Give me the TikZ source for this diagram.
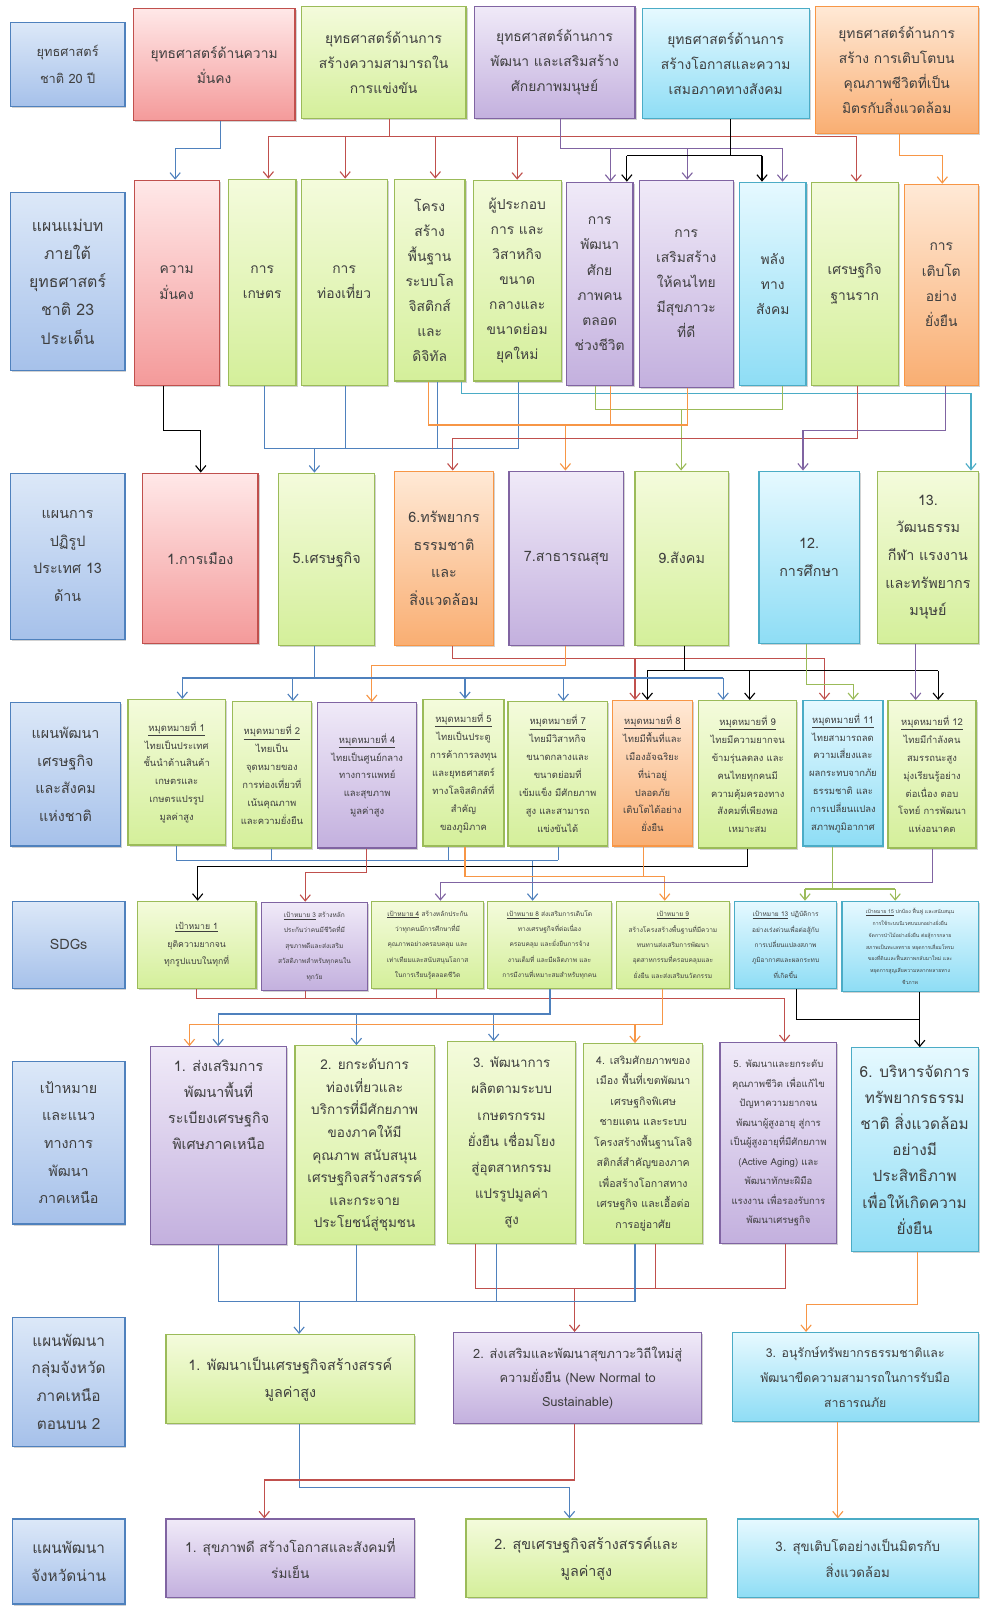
\documentclass[tikz,border=0pt]{standalone}
\usepackage{fontspec}
\setmainfont[Script=Thai]{Loma}
\usetikzlibrary{arrows.meta,shadows,calc}
\definecolor{tx}{HTML}{3F3F3F}
\definecolor{bluB}{HTML}{4F81BD}\definecolor{bluT}{HTML}{DCE8F8}\definecolor{bluE}{HTML}{A6C1EA}
\definecolor{redB}{HTML}{C0504D}\definecolor{redT}{HTML}{FFE8E8}\definecolor{redE}{HTML}{F49A9A}
\definecolor{grnB}{HTML}{9BBB59}\definecolor{grnT}{HTML}{F4FBDC}\definecolor{grnE}{HTML}{D4EF9A}
\definecolor{purB}{HTML}{8064A2}\definecolor{purT}{HTML}{F0EAF8}\definecolor{purE}{HTML}{C3B0DE}
\definecolor{cyaB}{HTML}{4BACC6}\definecolor{cyaT}{HTML}{E6F9FF}\definecolor{cyaE}{HTML}{8EDDF5}
\definecolor{orgB}{HTML}{F79646}\definecolor{orgT}{HTML}{FFE9D6}\definecolor{orgE}{HTML}{F9AE72}
\newcommand\myfs[2]{\fontsize{#1}{#2}\selectfont}
\newcommand\mybox[7]{\node[#1, minimum width={#5pt-#3pt}, minimum height={#6pt-#4pt}] (#2) at ({(#3+#5)/2},{(#4+#6)/2}) {#7};}
\tikzset{
 bx/.style={draw, line width=1.2pt, align=center, text=tx, inner sep=1pt,
   drop shadow={shadow xshift=1.5pt,shadow yshift=-1.5pt,opacity=0.35}},
 lbl/.style={bx, draw=bluB, top color=bluT, bottom color=bluE},
 rbx/.style={bx, draw=redB, top color=redT, bottom color=redE},
 gbx/.style={bx, draw=grnB, top color=grnT, bottom color=grnE},
 pbx/.style={bx, draw=purB, top color=purT, bottom color=purE},
 cbx/.style={bx, draw=cyaB, top color=cyaT, bottom color=cyaE},
 obx/.style={bx, draw=orgB, top color=orgT, bottom color=orgE},
 ln/.style={line width=1.1pt},
 cb/.style={ln, draw=bluB}, cr/.style={ln, draw=redB}, cp/.style={ln, draw=purB},
 ck/.style={ln, draw=black}, co/.style={ln, draw=orgB}, cg/.style={ln, draw=grnB},
 cc/.style={ln, draw=cyaB},
 ar/.style={-{Straight Barb[length=6pt,width=10pt]}},
 t1/.style={font=\myfs{14}{27}},
 t2/.style={font=\myfs{13.5}{24.5}},
 t4/.style={font=\myfs{9.2}{17.5}},
 t5/.style={font=\myfs{6.4}{15}},
}
\begin{document}
\begin{tikzpicture}[x=1pt,y=-1pt]
\fill[white] (0,0) rectangle (958,1568);
\useasboundingbox (0,0) rectangle (958,1568);
% ---------- row 1
\mybox{lbl,font=\myfs{12.5}{26}}{l1}{10}{22}{122}{104}{ยุทธศาสตร์\\ชาติ 20 ปี}
\mybox{rbx,t2}{s1}{130}{8}{288}{118}{ยุทธศาสตร์ด้านความ\\มั่นคง}
\mybox{gbx,t2}{s2}{294}{6}{455}{116}{ยุทธศาสตร์ด้านการ\\สร้างความสามารถใน\\การแข่งขัน}
\mybox{pbx,t2}{s3}{463}{6}{620}{116}{ยุทธศาสตร์ด้านการ\\พัฒนา และเสริมสร้าง\\ศักยภาพมนุษย์}
\mybox{cbx,t2}{s4}{627}{8}{790}{116}{ยุทธศาสตร์ด้านการ\\สร้างโอกาสและความ\\เสมอภาคทางสังคม}
\mybox{obx,t2}{s5}{796}{6}{955}{130}{ยุทธศาสตร์ด้านการ\\สร้าง การเติบโตบน\\คุณภาพชีวิตที่เป็น\\มิตรกับสิ่งแวดล้อม}
% ---------- row 2
\mybox{lbl,font=\myfs{15.5}{27.5}}{l2}{10}{188}{122}{362}{แผนแม่บท\\ภายใต้\\ยุทธศาสตร์\\ชาติ 23\\ประเด็น}
\mybox{rbx,t2}{b1}{131}{176}{214}{376}{ความ\\มั่นคง}
\mybox{gbx,t2}{b2}{223}{175}{289}{376}{การ\\เกษตร}
\mybox{gbx,t2}{b3}{294}{175}{378}{376}{การ\\ท่องเที่ยว}
\mybox{gbx,t2}{b4}{385}{175}{454}{372}{โครง\\สร้าง\\พื้นฐาน\\ระบบโล\\จิสติกส์\\และ\\ดิจิทัล}
\mybox{gbx,t2}{b5}{462}{176}{548}{372}{ผู้ประกอบ\\การ และ\\วิสาหกิจ\\ขนาด\\กลางและ\\ขนาดย่อม\\ยุคใหม่}
\mybox{pbx,t2}{b6}{553}{178}{618}{376}{การ\\พัฒนา\\ศักย\\ภาพคน\\ตลอด\\ช่วงชีวิต}
\mybox{pbx,t2}{b7}{624}{176}{716}{378}{การ\\เสริมสร้าง\\ให้คนไทย\\มีสุขภาวะ\\ที่ดี}
\mybox{cbx,t2}{b8}{722}{178}{787}{376}{พลัง\\ทาง\\สังคม}
\mybox{gbx,t2}{b9}{792}{178}{877}{376}{เศรษฐกิจ\\ฐานราก}
\mybox{obx,t2}{b10}{883}{180}{955}{376}{การ\\เติบโต\\อย่าง\\ยั่งยืน}
% ---------- row 3
\mybox{lbl,t1}{l3}{10}{462}{122}{624}{แผนการ\\ปฏิรูป\\ประเทศ 13\\ด้าน}
\mybox{rbx,t1}{c1}{139}{462}{252}{628}{1.การเมือง}
\mybox{gbx,t1}{c2}{272}{462}{366}{630}{5.เศรษฐกิจ}
\mybox{obx,t1}{c3}{385}{460}{482}{630}{6.ทรัพยากร\\ธรรมชาติ\\และ\\สิ่งแวดล้อม}
\mybox{pbx,t1}{c4}{497}{460}{609}{630}{7.สาธารณสุข}
\mybox{gbx,t1}{c5}{620}{460}{711}{630}{9.สังคม}
\mybox{cbx,t1}{c6}{741}{460}{839}{628}{12.\\การศึกษา}
\mybox{gbx,t1}{c7}{857}{460}{955}{628}{13.\\วัฒนธรรม\\กีฬา แรงงาน\\และทรัพยากร\\มนุษย์}
% ---------- row 4
\mybox{lbl,t1}{l4}{10}{686}{118}{826}{แผนพัฒนา\\เศรษฐกิจ\\และสังคม\\แห่งชาติ}
\mybox{gbx,t4}{d1}{125}{683}{220}{825}{\underline{หมุดหมายที่ 1}\\ไทยเป็นประเทศ\\ชั้นนำด้านสินค้า\\เกษตรและ\\เกษตรแปรรูป\\มูลค่าสูง}
\mybox{gbx,t4}{d2}{227}{685}{304}{828}{\underline{หมุดหมายที่ 2}\\ไทยเป็น\\จุดหมายของ\\การท่องเที่ยวที่\\เน้นคุณภาพ\\และความยั่งยืน}
\mybox{pbx,t4}{d3}{310}{686}{407}{828}{\underline{หมุดหมายที่ 4}\\ไทยเป็นศูนย์กลาง\\ทางการแพทย์\\และสุขภาพ\\มูลค่าสูง}
\mybox{gbx,t4}{d4}{413}{683}{492}{826}{\underline{หมุดหมายที่ 5}\\ไทยเป็นประตู\\การค้าการลงทุน\\และยุทธศาสตร์\\ทางโลจิสติกส์ที่\\สำคัญ\\ของภูมิภาค}
\mybox{gbx,t4}{d5}{496}{685}{593}{826}{\underline{หมุดหมายที่ 7}\\ไทยมีวิสาหกิจ\\ขนาดกลางและ\\ขนาดย่อมที่\\เข้มแข็ง มีศักยภาพ\\สูง และสามารถ\\แข่งขันได้}
\mybox{obx,t4}{d6}{598}{684}{676}{826}{\underline{หมุดหมายที่ 8}\\ไทยมีพื้นที่และ\\เมืองอัจฉริยะ\\ที่น่าอยู่\\ปลอดภัย\\เติบโตได้อย่าง\\ยั่งยืน}
\mybox{gbx,t4}{d7}{682}{684}{778}{828}{\underline{หมุดหมายที่ 9}\\ไทยมีความยากจน\\ข้ามรุ่นลดลง และ\\คนไทยทุกคนมี\\ความคุ้มครองทาง\\สังคมที่เพียงพอ\\เหมาะสม}
\mybox{cbx,t4}{d8}{784}{684}{862}{826}{\underline{หมุดหมายที่ 11}\\ไทยสามารถลด\\ความเสี่ยงและ\\ผลกระทบจากภัย\\ธรรมชาติ และ\\การเปลี่ยนแปลง\\สภาพภูมิอากาศ}
\mybox{gbx,t4}{d9}{867}{684}{953}{828}{\underline{หมุดหมายที่ 12}\\ไทยมีกำลังคน\\สมรรถนะสูง\\มุ่งเรียนรู้อย่าง\\ต่อเนื่อง ตอบ\\โจทย์ การพัฒนา\\แห่งอนาคต}
% ---------- row 5
\mybox{lbl,t1}{l5}{12}{880}{122}{965}{SDGs}
\mybox{gbx,font=\myfs{8.5}{17}}{e1}{134}{880}{250}{965}{\underline{เป้าหมาย 1}\\ยุติความยากจน\\ทุกรูปแบบในทุกที่}
\mybox{pbx,t5}{e2}{255}{881}{359}{967}{\underline{เป้าหมาย 3} สร้างหลัก\\ประกันว่าคนมีชีวิตที่มี\\สุขภาพดีและส่งเสริม\\สวัสดิภาพสำหรับทุกคนใน\\ทุกวัย}
\mybox{gbx,t5}{e3}{363}{880}{472}{965}{\underline{เป้าหมาย 4} สร้างหลักประกัน\\ว่าทุกคนมีการศึกษาที่มี\\คุณภาพอย่างครอบคลุม และ\\เท่าเทียมและสนับสนุนโอกาส\\ในการเรียนรู้ตลอดชีวิต}
\mybox{gbx,t5}{e4}{476}{880}{597}{965}{\underline{เป้าหมาย 8} ส่งเสริมการเติบโต\\ทางเศรษฐกิจที่ต่อเนื่อง\\ครอบคลุม และยั่งยืนการจ้าง\\งานเต็มที่ และมีผลิตภาพ และ\\การมีงานที่เหมาะสมสำหรับทุกคน}
\mybox{gbx,t5}{e5}{602}{880}{712}{965}{\underline{เป้าหมาย 9}\\สร้างโครงสร้างพื้นฐานที่มีความ\\ทนทานส่งเสริมการพัฒนา\\อุตสาหกรรมที่ครอบคลุมและ\\ยั่งยืน และส่งเสริมนวัตกรรม}
\mybox{cbx,t5}{e6}{717}{880}{817}{965}{\underline{เป้าหมาย 13} ปฏิบัติการ\\อย่างเร่งด่วนเพื่อต่อสู้กับ\\การเปลี่ยนแปลงสภาพ\\ภูมิอากาศและผลกระทบ\\ที่เกิดขึ้น}
\mybox{cbx,font=\myfs{5}{11.5}}{e7}{822}{880}{955}{968}{\underline{เป้าหมาย 15} ปกป้อง ฟื้นฟู และสนับสนุน\\การใช้ระบบนิเวศบนบกอย่างยั่งยืน\\จัดการป่าไม้อย่างยั่งยืน ต่อสู้การกลาย\\สภาพเป็นทะเลทราย หยุดการเสื่อมโทรม\\ของที่ดินและฟื้นสภาพกลับมาใหม่ และ\\หยุดการสูญเสียความหลากหลายทาง\\ชีวภาพ}
% ---------- row 6
\mybox{lbl,t1}{l6}{12}{1036}{122}{1195}{เป้าหมาย\\และแนว\\ทางการ\\พัฒนา\\ภาคเหนือ}
\mybox{pbx}{f1}{147}{1022}{280}{1215}{}
\node[text=tx,align=center,anchor=north,font=\myfs{14}{25.5}] (f1t) at ($(f1.north)+(0,10)$) {1. ส่งเสริมการ\\พัฒนาพื้นที่\\ระเบียงเศรษฐกิจ\\พิเศษภาคเหนือ};
\mybox{gbx,font=\myfs{13.2}{22}}{f2}{288}{1021}{424}{1215}{2. ยกระดับการ\\ท่องเที่ยวและ\\บริการที่มีศักยภาพ\\ของภาคให้มี\\คุณภาพ สนับสนุน\\เศรษฐกิจสร้างสรรค์\\และกระจาย\\ประโยชน์สู่ชุมชน}
\mybox{gbx,font=\myfs{13}{25.5}}{f3}{437}{1017}{562}{1214}{3. พัฒนาการ\\ผลิตตามระบบ\\เกษตรกรรม\\ยั่งยืน เชื่อมโยง\\สู่อุตสาหกรรม\\แปรรูปมูลค่า\\สูง}
\mybox{gbx,font=\myfs{10.3}{20}}{f4}{570}{1019}{686}{1214}{4. เสริมศักยภาพของ\\เมือง พื้นที่เขตพัฒนา\\เศรษฐกิจพิเศษ\\ชายแดน และระบบ\\โครงสร้างพื้นฐานโลจิ\\สติกส์สำคัญของภาค\\เพื่อสร้างโอกาสทาง\\เศรษฐกิจ และเอื้อต่อ\\การอยู่อาศัย}
\mybox{pbx,font=\myfs{9.3}{19}}{f5}{703}{1018}{817}{1214}{5. พัฒนาและยกระดับ\\คุณภาพชีวิต เพื่อแก้ไข\\ปัญหาความยากจน\\พัฒนาผู้สูงอายุ สู่การ\\เป็นผู้สูงอายุที่มีศักยภาพ\\(Active Aging) และ\\พัฒนาทักษะฝีมือ\\แรงงาน เพื่อรองรับการ\\พัฒนาเศรษฐกิจ}
\mybox{cbx,font=\myfs{15}{25.5}}{f6}{831}{1023}{955}{1222}{6. บริหารจัดการ\\ทรัพยากรธรรม\\ชาติ สิ่งแวดล้อม\\อย่างมี\\ประสิทธิภาพ\\เพื่อให้เกิดความ\\ยั่งยืน}
% ---------- row 7
\mybox{lbl,font=\myfs{15}{27}}{l7}{12}{1286}{122}{1412}{แผนพัฒนา\\กลุ่มจังหวัด\\ภาคเหนือ\\ตอนบน 2}
\mybox{gbx,font=\myfs{14}{26}}{g1}{162}{1303}{405}{1390}{1. พัฒนาเป็นเศรษฐกิจสร้างสรรค์\\มูลค่าสูง}
\mybox{pbx,font=\myfs{12.5}{23}}{g2}{443}{1301}{685}{1390}{2. ส่งเสริมและพัฒนาสุขภาวะวิถีใหม่สู่\\ความยั่งยืน (New Normal to\\Sustainable)}
\mybox{cbx,font=\myfs{12}{24}}{g3}{715}{1301}{955}{1388}{3. อนุรักษ์ทรัพยากรธรรมชาติและ\\พัฒนาขีดความสามารถในการรับมือ\\สาธารณภัย}
% ---------- row 8
\mybox{lbl,font=\myfs{15}{27}}{l8}{12}{1483}{122}{1566}{แผนพัฒนา\\จังหวัดน่าน}
\mybox{pbx,font=\myfs{13.3}{26}}{h1}{162}{1483}{405}{1560}{1. สุขภาพดี สร้างโอกาสและสังคมที่\\ร่มเย็น}
\mybox{gbx,font=\myfs{14}{26}}{h2}{455}{1483}{690}{1560}{2. สุขเศรษฐกิจสร้างสรรค์และ\\มูลค่าสูง}
\mybox{cbx,font=\myfs{13}{26}}{h3}{720}{1483}{955}{1560}{3. สุขเติบโตอย่างเป็นมิตรกับ\\สิ่งแวดล้อม}
% ================= connectors
% row1 -> row2
\draw[cb,ar] (215,0 |- s1.south) -- (215,145) -| (171,0 |- b1.north);
\draw[cr] (380,0 |- s2.south) -- (380,133);
\draw[cr] (262,133) -- (836,133);
\foreach \x/\n in {262/b2,337/b3,425/b4,505/b5,836/b9} \draw[cr,ar] (\x,133) -- (\x,0 |- \n.north);
\draw[cp] (547,0 |- s3.south) -- (547,145) -- (764,145);
\foreach \x/\n in {596/b6,671/b7,764/b8} \draw[cp,ar] (\x,145) -- (\x,0 |- \n.north);
\draw[ck] (713,0 |- s4.south) -- (713,152);
\draw[ck] (612,152) -- (744,152);
\foreach \x/\n in {612/b6,744/b8} \draw[ck,ar] (\x,152) -- (\x,0 |- \n.north);
\draw[co,ar] (878,0 |- s5.south) -- (878,152) -| (920,0 |- b10.north);
% row2 -> row3
\draw[ck,ar] (160,0 |- b1.south) -- (160,420) -| (196,0 |- c1.north);
\draw[cb] (258,0 |- b2.south) -- (258,438) -- (506,438);
\foreach \x/\n in {337/b3,427/b4,506/b5} \draw[cb] (\x,0 |- \n.south) -- (\x,438);
\draw[cb,ar] (307,438) -- (307,0 |- c2.north);
\draw[cc,ar] (451,0 |- b4.south) -- (451,384) -- (948,384) -- (948,0 |- c7.north);
\draw[cg] (581,0 |- b6.south) -- (581,400) -- (764,400) -- (764,0 |- b8.south);
\draw[cg,ar] (665,400) -- (665,0 |- c5.north);
\draw[co] (418,0 |- b4.south) -- (418,415) -- (671,415) -- (671,0 |- b7.south);
\draw[co] (596,0 |- b6.south) -- (596,415);
\draw[co,ar] (552,415) -- (552,0 |- c4.north);
\draw[cr,ar] (837,0 |- b9.south) -- (837,428) -- (442,428) -- (442,0 |- c3.north);
\draw[cp,ar] (923,0 |- b10.south) -- (923,420) -| (784,0 |- c6.north);
% row3 -> row4
\draw[cr] (442,0 |- c3.south) -- (442,643) -- (805,643);
\foreach \x/\n in {620/d6,805/d8} \draw[cr,ar] (\x,643) -- (\x,0 |- \n.north);
\draw[co,ar] (552,0 |- c4.south) -- (552,650) -| (363,0 |- d3.north);
\draw[ck] (668,0 |- c5.south) -- (668,655);
\draw[ck] (632,655) -- (916,655);
\foreach \x/\n in {632/d6,732/d7,916/d9} \draw[ck,ar] (\x,655) -- (\x,0 |- \n.north);
\draw[cb] (307,0 |- c2.south) -- (307,662);
\draw[cb] (178,662) -- (706,662);
\foreach \x/\n in {178/d1,286/d2,454/d4,550/d5,706/d7} \draw[cb,ar] (\x,662) -- (\x,0 |- \n.north);
\draw[cg,ar] (787,0 |- c6.south) -- (787,668) -| (833,0 |- d8.north);
\draw[cp,ar] (894,0 |- c7.south) -- (894,0 |- d9.north);
% row4 -> row5
\draw[cb] (172,0 |- d1.south) -- (172,840) -- (545,840);
\foreach \x/\n in {265/d2,438/d4,545/d5} \draw[cb] (\x,0 |- \n.south) -- (\x,840);
\draw[cb,ar] (520,840) -- (520,0 |- e4.north);
\draw[ck,ar] (730,0 |- d7.south) -- (730,846) -- (193,846) -- (193,0 |- e1.north);
\draw[cr,ar] (358,0 |- d3.south) -- (358,852) -- (298,852) -- (298,0 |- e2.north);
\draw[co,ar] (454,0 |- d4.south) -- (454,856) -- (649,856) -- (649,0 |- e5.north);
\draw[co] (628,0 |- d6.south) -- (628,856);
\draw[cp,ar] (910,0 |- d9.south) -- (910,862) -- (430,862) -- (430,0 |- e3.north);
\draw[cg] (813,0 |- d8.south) -- (813,868);
\draw[cg] (786,868) -- (874,868);
\foreach \x/\n in {786/e6,874/e7} \draw[cg,ar] (\x,868) -- (\x,0 |- \n.north);
% row5 -> row6
\draw[cr] (192,0 |- e1.south) -- (192,975) -- (766,975);
\foreach \x/\n in {298/e2,426/e3} \draw[cr] (\x,0 |- \n.south) -- (\x,975);
\draw[cr,ar] (766,975) -- (766,0 |- f5.north);
\draw[cb] (537,0 |- e4.south) -- (537,990) -- (213,990);
\foreach \x/\n in {213/f1,348/f2,482/f3} \draw[cb,ar] (\x,990) -- (\x,0 |- \n.north);
\draw[co] (647,0 |- e5.south) -- (647,1000) -- (185,1000);
\foreach \x/\n in {185/f1,620/f4} \draw[co,ar] (\x,1000) -- (\x,0 |- \n.north);
\draw[ck] (778,0 |- e6.south) -- (778,995) -- (898,995);
\draw[ck,ar] (898,0 |- e7.south) -- (898,0 |- f6.north);
% row6 -> row7
\draw[cr] (464,0 |- f3.south) -- (464,1258) -- (767,1258);
\foreach \x/\n in {640/f4,767/f5} \draw[cr] (\x,0 |- \n.south) -- (\x,1258);
\draw[cr,ar] (561,1258) -- (561,0 |- g2.north);
\draw[cb] (213,0 |- f1.south) -- (213,1271) -- (620,1271);
\foreach \x/\n in {348/f2,485/f3,620/f4} \draw[cb] (\x,0 |- \n.south) -- (\x,1271);
\draw[cb,ar] (292,1271) -- (292,0 |- g1.north);
\draw[co,ar] (896,0 |- f6.south) -- (896,1274) -| (787,0 |- g3.north);
% row7 -> row8
\draw[cb,ar] (292,0 |- g1.south) -- (292,1452) -- (556,1452) -- (556,0 |- h2.north);
\draw[cr,ar] (561,0 |- g2.south) -- (561,1445) -- (258,1445) -- (258,0 |- h1.north);
\draw[co,ar] (818,0 |- g3.south) -- (818,0 |- h3.north);
\end{tikzpicture}
\end{document}
